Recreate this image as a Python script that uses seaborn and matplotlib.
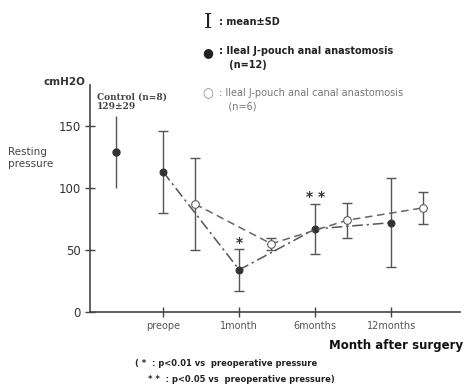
import numpy as np
import pandas as pd
import seaborn as sns
import matplotlib
matplotlib.use("Agg")
import matplotlib.pyplot as plt

# data (cmH2O, mean and SD)
months = ["preope", "1month", "6months", "12months"]
ipaa_mean = [113, 34, 67, 72]
ipaa_sd = [33, 17, 20, 36]
canal_mean = [87, 55, 74, 84]
canal_sd = [37, 5, 14, 13]
control_mean = 129
control_sd = 29

sns.set_theme(style="white")
plt.rcParams["font.family"] = ["DejaVu Sans"]

fig = plt.figure(figsize=(4.63, 3.91), dpi=100)
ax = fig.add_axes([90 / 463, 79 / 391, 370 / 463, 227 / 391])

pos = np.arange(1, len(months) + 1)
df = pd.DataFrame({
    "x": np.concatenate([pos, pos + 0.42]),
    "mean": ipaa_mean + canal_mean,
    "sd": ipaa_sd + canal_sd,
    "group": ["ipaa"] * 4 + ["canal"] * 4,
})

ink = "#333333"
sns.lineplot(data=df[df.group == "ipaa"], x="x", y="mean", ax=ax, color="#555555",
             lw=1.1, linestyle=(0, (7, 2.5, 1.5, 2.5)), marker="o",
             markersize=5, markerfacecolor=ink, markeredgecolor=ink, zorder=3)
sns.lineplot(data=df[df.group == "canal"], x="x", y="mean", ax=ax, color="#666666",
             lw=1.1, linestyle=(0, (5, 3)), marker="o", markersize=5.5,
             markerfacecolor="white", markeredgecolor="#555555", zorder=4)

for g in ["ipaa", "canal"]:
    d = df[df.group == g]
    ax.errorbar(d["x"], d["mean"], yerr=d["sd"], fmt="none", ecolor="#555555",
                elinewidth=1, capsize=3.3, capthick=1, zorder=2)
ax.errorbar([0.38], [control_mean], yerr=[control_sd], fmt="o", color=ink,
            ms=5, ecolor="#555555", elinewidth=1, capsize=0, zorder=2)

ax.set_xlim(0.04, 4.9)
ax.set_ylim(0, 183)
ax.set_xticks(pos)
ax.set_xticklabels(months, fontsize=7, color="#555555")
ax.set_yticks([0, 50, 100, 150])
ax.set_yticklabels(["0", "50", "100", "150"], fontsize=8.5, color="#333333")
ax.tick_params(axis="both", direction="inout", length=7, width=1, color="#444444",
               bottom=True, left=True, pad=3)
for s in ["top", "right"]:
    ax.spines[s].set_visible(False)
for s in ["left", "bottom"]:
    ax.spines[s].set_color("#444444")
    ax.spines[s].set_linewidth(1.2)
ax.set_xlabel("")
ax.set_ylabel("")

# significance marks
ax.text(2, 56, "*", ha="center", va="center", fontsize=10, fontweight="bold", color=ink)
ax.text(3, 93, "* *", ha="center", va="center", fontsize=10, fontweight="bold", color=ink)

# labels around the axes
fig.text(44 / 463, 1 - 82 / 391, "cmH2O", fontsize=7.5, fontweight="bold", color="#333333", va="center")
fig.text(8 / 463, 1 - 158 / 391, "Resting\npressure", fontsize=7.5, color="#444444",
         va="center", linespacing=1.3)
fig.text(97 / 463, 1 - 102 / 391, "Control (n=8)\n129±29", fontsize=6.5, family="DejaVu Serif",
         fontweight="bold", color="#444444", va="center", linespacing=1.0)
fig.text(1.0, 1 - 346 / 391, "Month after surgery", fontsize=8.5, fontweight="bold",
         color="#111111", ha="right", va="center")
fig.text(135 / 463, 1 - 363 / 391, "( *  : p<0.01 vs  preoperative pressure", fontsize=6,
         fontweight="bold", color="#222222", va="center")
fig.text(148 / 463, 1 - 379 / 391, "* *  : p<0.05 vs  preoperative pressure)", fontsize=6,
         fontweight="bold", color="#222222", va="center")

# legend block at the top
fig.text(208 / 463, 1 - 22 / 391, "I", fontsize=15, family="DejaVu Serif", color="#222222",
         va="center", ha="center")
fig.text(219 / 463, 1 - 22 / 391, ": mean±SD", fontsize=7, fontweight="bold", color="#222222", va="center")
fig.text(208 / 463, 1 - 53 / 391, "●", fontsize=9, color="#222222", va="center", ha="center")
fig.text(219 / 463, 1 - 46 / 391, ": Ileal J-pouch anal anastomosis\n   (n=12)", fontsize=7,
         fontweight="bold", color="#222222", va="top", linespacing=1.45)
fig.text(208 / 463, 1 - 94 / 391, "○", fontsize=9, color="#888888", va="center", ha="center")
fig.text(219 / 463, 1 - 88 / 391, ": Ileal J-pouch anal canal anastomosis\n   (n=6)", fontsize=7,
         color="#777777", va="top", linespacing=1.45)

fig.savefig("out.png", dpi=100)
